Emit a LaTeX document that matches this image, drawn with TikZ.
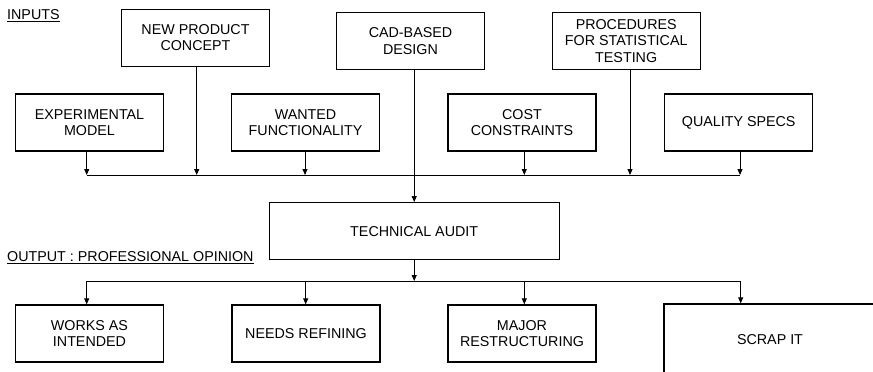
\documentclass[tikz,border=0pt]{standalone}
\usepackage{fontspec}
\setmainfont{Liberation Sans}
\usetikzlibrary{arrows.meta}
\begin{document}
\begin{tikzpicture}[x=1pt,y=-1pt,
  txt/.style={font=\fontsize{14.3}{16.7}\selectfont, text=black},
  box/.style={txt, draw, line width=1.3pt, align=center, inner sep=0pt,
    minimum width=148pt, minimum height=57pt},
  conn/.style={line width=0.9pt},
  arr/.style={conn, -{Triangle[length=6pt,width=5pt]}}]
\useasboundingbox (0,0) rectangle (873,372);

% labels
\node[txt, anchor=base west, inner sep=0pt] (inlbl) at (7,19.5) {\underline{INPUTS}};
\node[txt, anchor=base west, inner sep=0pt] (outlbl) at (7,261.5) {\underline{OUTPUT : PROFESSIONAL OPINION}};

% input boxes
\node[box] (np)  at (195.5,37.7)  {NEW PRODUCT\\CONCEPT};
\node[box] (cad) at (410.5,41)    {CAD-BASED\\DESIGN};
\node[box] (pst) at (626.2,41)    {PROCEDURES\\FOR STATISTICAL\\TESTING};
\node[box] (em)  at (89.5,122.5)  {EXPERIMENTAL\\MODEL};
\node[box] (wf)  at (305.5,122.5) {WANTED\\FUNCTIONALITY};
\node[box] (cc)  at (522,122.5)   {COST\\CONSTRAINTS};
\node[box] (qs)  at (738.7,122.5) {QUALITY SPECS};

% audit
\node[box, minimum width=290pt] (ta) at (414.2,231.2) {TECHNICAL AUDIT};

% outputs
\node[box] (wi) at (89.5,333.5) {WORKS AS\\INTENDED};
\node[box] (nr) at (306,333.5)  {NEEDS REFINING};
\node[box] (mr) at (522,333.5)  {MAJOR\\RESTRUCTURING};
\node[box, minimum width=212pt, minimum height=72pt] (si) at (770,340) {SCRAP IT};

% input bus
\coordinate (b1) at (86.7,175);
\coordinate (b2) at (196.7,175);
\coordinate (b3) at (305,175);
\coordinate (b5) at (524.3,175);
\coordinate (b6) at (630,175);
\coordinate (b7) at (740,175);
\draw[conn] (b1) -- (b7);
\draw[arr] (em.south -| b1) -- (b1);
\draw[arr] (np.south -| b2) -- (b2);
\draw[arr] (wf.south -| b3) -- (b3);
\draw[arr] (cc.south -| b5) -- (b5);
\draw[arr] (pst.south -| b6) -- (b6);
\draw[arr] (qs.south -| b7) -- (b7);
\draw[arr] (cad.south -| ta.north) -- (ta.north);

% output bus
\coordinate (o0) at (414.2,281);
\coordinate (o1) at (86.7,281);
\coordinate (o2) at (305.7,281);
\coordinate (o3) at (524.3,281);
\coordinate (o4) at (740.7,281);
\draw[arr] (ta.south) -- (o0);
\draw[conn] (o1) -- (o4);
\draw[arr] (o1) -- (o1 |- wi.north);
\draw[arr] (o2) -- (o2 |- nr.north);
\draw[arr] (o3) -- (o3 |- mr.north);
\draw[arr] (o4) -- (o4 |- si.north);
\end{tikzpicture}
\end{document}
